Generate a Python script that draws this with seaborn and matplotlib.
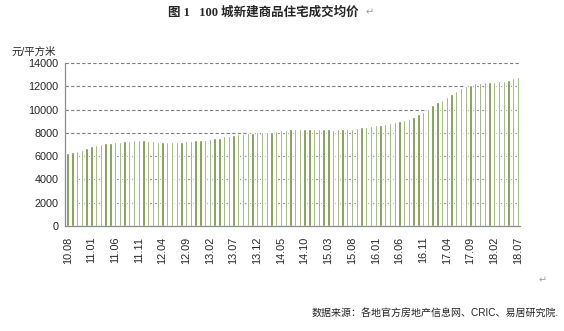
import numpy as np
import pandas as pd
import matplotlib
matplotlib.use("Agg")
import matplotlib.pyplot as plt
import seaborn as sns

# Monthly average transaction price of new commercial housing, 100 cities (yuan / m²)
months = [f"{(10 + (7 + i) // 12):02d}.{((7 + i) % 12) + 1:02d}" for i in range(96)]
prices = [
    6260, 6350, 6460, 6520, 6670, 6870, 6990, 7040, 7100, 7160,
    7190, 7220, 7280, 7330, 7360, 7370, 7360, 7330, 7280, 7250,
    7190, 7190, 7190, 7210, 7220, 7275, 7330, 7360, 7390, 7420,
    7480, 7540, 7590, 7710, 7770, 7855, 7910, 7940, 8000, 8030,
    8060, 8060, 8090, 8115, 8170, 8230, 8260, 8320, 8350, 8350,
    8340, 8340, 8340, 8340, 8330, 8300, 8290, 8300, 8310, 8330,
    8350, 8410, 8490, 8550, 8580, 8640, 8670, 8750, 8810, 8900,
    8990, 9070, 9220, 9370, 9590, 9830, 10030, 10410, 10640, 10840,
    11070, 11330, 11570, 11860, 12030, 12170, 12260, 12290, 12350, 12430,
    12430, 12460, 12460, 12580, 12700, 12780,
]
y_ticks = list(range(0, 14001, 2000))

title = "图 1   100 城新建商品住宅成交均价"
y_unit = "元/平方米"
source = "数据来源：各地官方房地产信息网、CRIC、易居研究院."

sns.set_style("white")
plt.rcParams["font.family"] = ["Liberation Sans", "Noto Sans CJK SC", "DejaVu Sans"]

df = pd.DataFrame({"month": months, "price": prices})

fig = plt.figure(figsize=(5.64, 3.31), dpi=100)
ax = fig.add_axes([0.1158, 0.3181, 0.8067, 0.4907])

sns.barplot(data=df, x="month", y="price", color="#6F8E3A", saturation=1,
            width=0.5, ax=ax, order=months)

ax.set_xlim(-0.5, len(months) - 0.5)
ax.set_ylim(0, 14000)
ax.set_yticks(y_ticks)
ax.set_yticklabels([str(v) for v in y_ticks], fontsize=7.8)
ax.yaxis.grid(True, linestyle=(0, (3, 2)), color="#7f7f7f", linewidth=0.8)
ax.set_axisbelow(True)

label_pos = list(range(0, len(months), 5))
ax.set_xticks(label_pos)
ax.set_xticklabels([months[i] for i in label_pos], rotation=90, fontsize=7.8)
ax.set_xticks(np.arange(-0.5, len(months), 1.0), minor=True)
ax.tick_params(axis="x", which="major", length=0, pad=8)
ax.tick_params(axis="x", which="minor", length=3, width=0.6, color="#8c8c8c", direction="out")
ax.tick_params(axis="y", which="major", length=3, width=0.6, color="#8c8c8c", direction="out", pad=2)

ax.set_xlabel("")
ax.set_ylabel("")
for side in ("top", "right"):
    ax.spines[side].set_visible(False)
for side in ("left", "bottom"):
    ax.spines[side].set_color("#8c8c8c")
    ax.spines[side].set_linewidth(0.9)

fig.text(0.466, 0.962, title, ha="center", va="center", fontsize=9, fontweight="bold",
         family=["Liberation Serif", "Noto Sans CJK SC"])
fig.text(0.648, 0.962, "↵", ha="left", va="center", fontsize=7, color="#a0a0a0",
         family=["DejaVu Sans"])
fig.text(0.021, 0.845, y_unit, ha="left", va="center", fontsize=7.5)
fig.text(0.955, 0.152, "↵", ha="left", va="center", fontsize=7, color="#a0a0a0",
         family=["DejaVu Sans"])
fig.text(0.553, 0.052, source, ha="left", va="center", fontsize=7.2)

fig.savefig("out.png", dpi=100)
